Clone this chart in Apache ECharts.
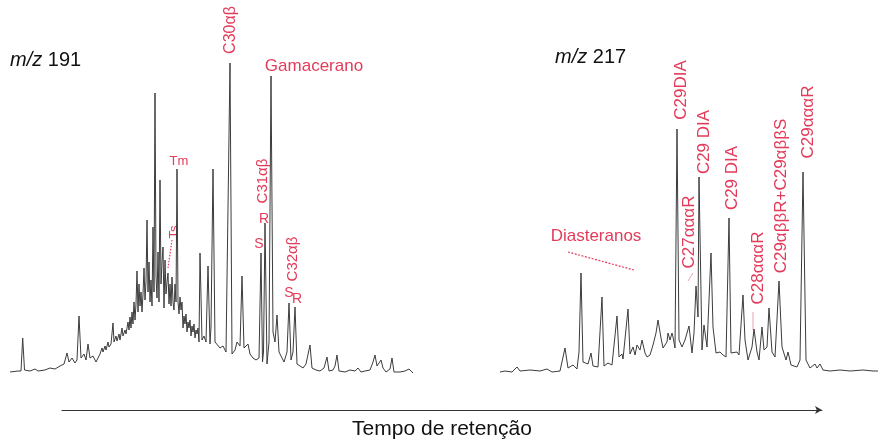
<!DOCTYPE html>
<html>
<head>
<meta charset="utf-8">
<script src="https://cdn.jsdelivr.net/npm/echarts@6/dist/echarts.min.js"></script>
<style>
  html, body { margin: 0; padding: 0; background: #fff; }
  #main { width: 878px; height: 440px; }
</style>
</head>
<body>
<div id="main"></div>
<script>
// m/z 191 (terpanos): [tempo, intensidade]
var trace191 = [
  [10,0],[18,1],[21,1],[22.7,34],[24.5,2],[30,1],[35,3],[38,1],[45,2],[50,4],[55,3],[60,6],[64,8],
  [67,19],[69,10],[72,14],[75,9],[77,12],[79,56],[81,14],[84,18],[86,12],[88,28],[90,14],[93,16],
  [96,10],[100,18],[102,24],[103,20],[105,26],[106,22],[108,30],[109,25],[111,28],[113,49],[114,30],
  [116,36],[117,31],[119,38],[120,32],[122,44],[123,36],[125,42],[126,38],[128,50],[129,42],[130,55],
  [131,44],[132,60],[133,48],[134,70],[135,52],[136,68],[137,101],[138,60],[139,88],[140,66],[141,80],
  [142,60],[143,78],[144,104],[145,72],[146,90],[147,152],[148,80],[149,110],[150,70],[151,92],
  [152,66],[153,145],[154,80],[155,279],[156,96],[157,74],[158,120],[159,70],[160,192],[161,88],
  [162,110],[163,125],[164,64],[165,112],[166,78],[167,90],[168,99],[169,68],[170,88],[171,66],
  [172,95],[173,70],[174,62],[175,88],[176,70],[177,203],[178,70],[179,58],[180,75],[181,62],
  [182,70],[183,44],[184,56],[185,48],[186,58],[187,40],[188,50],[189,44],[190,52],[191,36],
  [192,46],[193,40],[194,48],[195,34],[196,42],[197,38],[198,44],[199,30],[200,119],[202,32],
  [204,36],[206,30],[208,106],[210,28],[211,45],[213,203],[215,30],[217,28],[220,24],[223,26],
  [226,20],[228,22],[230,309],[232,18],[235,22],[237,30],[240,26],[242,96],[244,24],[246,22],
  [248,28],[250,18],[253,14],[256,12],[259,14],[261,119],[262.5,10],[263.5,20],[265,149],[267,8],
  [269,30],[271,296],[273,40],[275,30],[277,57],[279,20],[281,16],[284,10],[287,20],[289,69],
  [291,12],[293,20],[295,65],[297,8],[300,6],[303,4],[306,8],[310,27],[312,4],[316,2],[320,1],
  [324,4],[327,15],[329,1],[333,2],[335,6],[337,17],[339,1],[345,0],[350,2],[355,1],[358,4],
  [361,0],[365,1],[370,2],[373,10],[375,17],[377,6],[379,8],[381,12],[383,4],[386,0],[390,3],
  [392,14],[394,0],[400,0],[405,1],[409,3],[413,-1]
];

// m/z 217 (esteranos)
var trace217 = [
  [500,0],[505,1],[512,0],[517,5],[520,1],[530,2],[540,1],[547,3],[552,0],[560,1],[565,24],[568,4],
  [573,7],[577,3],[579,20],[581,99],[583,10],[588,8],[591,19],[593,6],[598,5],[602,75],[604,6],
  [608,9],[612,7],[617,56],[619,15],[622,18],[623,13],[628,63],[630,18],[633,25],[635,17],[637,27],
  [640,22],[642,32],[645,19],[647,15],[650,17],[653,27],[656,39],[658,52],[661,34],[663,24],
  [667,30],[668,39],[670,32],[672,39],[673,35],[675,24],[677,243],[679,32],[682,25],[685,32],
  [689,46],[692,19],[694,39],[696,86],[698,55],[699,195],[702,22],[704,47],[707,25],[711,119],
  [713,45],[716,19],[720,20],[723,17],[726,15],[729,154],[731,19],[733,17],[737,20],[739,17],
  [743,77],[745,32],[748,12],[752,25],[754,43],[757,20],[759,12],[762,45],[764,22],[767,25],
  [769,64],[772,20],[775,15],[779,91],[782,25],[786,12],[788,20],[791,7],[797,5],[800,12],
  [803,200],[806,12],[810,4],[815,8],[817,4],[820,8],[823,2],[830,1],[840,2],[850,1],[863,2],
  [873,1],[878,1]
];

var red = "#e33b5a";
var font = "Liberation Sans, Arial, sans-serif";

// rotulos verticais: [texto, x, y, tamanho]
var vLabels = [
  ["C30\u03b1\u03b2", 231, 30, 16],
  ["Ts", 174, 232, 13],
  ["C31\u03b1\u03b2", 263, 181, 15],
  ["C32\u03b1\u03b2", 293, 259, 15],
  ["C29DIA", 681, 90, 17],
  ["C29 DIA", 704, 142, 17],
  ["C27\u03b1\u03b1\u03b1R", 689, 232, 17],
  ["C29 DIA", 732, 178, 17],
  ["C28\u03b1\u03b1\u03b1R", 758, 268, 17],
  ["C29\u03b1\u03b2\u03b2R+C29\u03b1\u03b2\u03b2S", 781, 196, 17],
  ["C29\u03b1\u03b1\u03b1R", 808, 122, 17]
];
// rotulos horizontais
var hLabels = [
  ["Gamacerano", 314, 66, 17],
  ["Tm", 179, 161, 13],
  ["R", 264, 219, 14],
  ["S", 259, 244, 14],
  ["S", 289, 293, 14],
  ["R", 297, 299, 14],
  ["Diasteranos", 596, 236, 17]
];

var myChart = echarts.init(document.getElementById("main"), null, { renderer: "canvas" });

var graphic = [];
vLabels.forEach(function (l) {
  graphic.push({
    type: "text", x: l[1], y: l[2], rotation: Math.PI / 2,
    style: { text: l[0], fill: red, font: l[3] + "px " + font, align: "center", verticalAlign: "middle" }
  });
});
hLabels.forEach(function (l) {
  graphic.push({
    type: "text", x: l[1], y: l[2],
    style: { text: l[0], fill: red, font: l[3] + "px " + font, align: "center", verticalAlign: "middle" }
  });
});
// linhas pontilhadas / indicadores
graphic.push(
  { type: "line", shape: { x1: 172, y1: 240, x2: 168, y2: 268 }, style: { stroke: red, lineWidth: 1.2, lineDash: [1.5, 1.5] } },
  { type: "line", shape: { x1: 568, y1: 252, x2: 634, y2: 270 }, style: { stroke: red, lineWidth: 1.2, lineDash: [2, 1.5] } },
  { type: "line", shape: { x1: 688, y1: 281, x2: 693, y2: 273 }, style: { stroke: "#e88a9a", lineWidth: 0.8 } },
  { type: "line", shape: { x1: 753, y1: 312, x2: 753, y2: 330 }, style: { stroke: "#e88a9a", lineWidth: 0.8 } }
);
// titulos m/z
graphic.push(
  { type: "text", x: 10, y: 60, style: { text: "{i|m/z} 191", fill: "#111", font: "20px " + font, verticalAlign: "middle",
      rich: { i: { fontStyle: "italic", fontSize: 20, fontFamily: font, fill: "#111" } } } },
  { type: "text", x: 555, y: 57, style: { text: "{i|m/z} 217", fill: "#111", font: "20px " + font, verticalAlign: "middle",
      rich: { i: { fontStyle: "italic", fontSize: 20, fontFamily: font, fill: "#111" } } } }
);

var yAx = { type: "value", min: -8, max: 320, show: false };

var option = {
  animation: false,
  backgroundColor: "#fff",
  grid: [
    { left: 10, width: 403, top: 52, height: 328, outerBoundsMode: "none" },
    { left: 500, right: 0, top: 52, height: 328, outerBoundsMode: "none" },
    { left: 62, right: 56, top: 300, bottom: 30, outerBoundsMode: "none" }
  ],
  xAxis: [
    { gridIndex: 0, type: "value", min: 10, max: 413, show: false },
    { gridIndex: 1, type: "value", min: 500, max: 878, show: false },
    {
      gridIndex: 2, type: "value", min: 0, max: 1,
      axisLine: { show: true, symbol: ["none", "arrow"], symbolSize: [6, 7], lineStyle: { color: "#333", width: 1 } },
      axisTick: { show: false }, axisLabel: { show: false }, splitLine: { show: false },
      name: "Tempo de retenção", nameLocation: "middle", nameGap: 9,
      nameTextStyle: { color: "#111", fontSize: 21, fontFamily: font }
    }
  ],
  yAxis: [
    Object.assign({ gridIndex: 0 }, yAx),
    Object.assign({ gridIndex: 1 }, yAx),
    { gridIndex: 2, type: "value", show: false }
  ],
  series: [
    { name: "m/z 191", type: "line", xAxisIndex: 0, yAxisIndex: 0, data: trace191, symbol: "none",
      lineStyle: { color: "#3c3c3c", width: 1 } },
    { name: "m/z 217", type: "line", xAxisIndex: 1, yAxisIndex: 1, data: trace217, symbol: "none",
      lineStyle: { color: "#3c3c3c", width: 1 } }
  ],
  graphic: graphic
};

myChart.setOption(option);
window.addEventListener("resize", myChart.resize);
</script>
</body>
</html>
